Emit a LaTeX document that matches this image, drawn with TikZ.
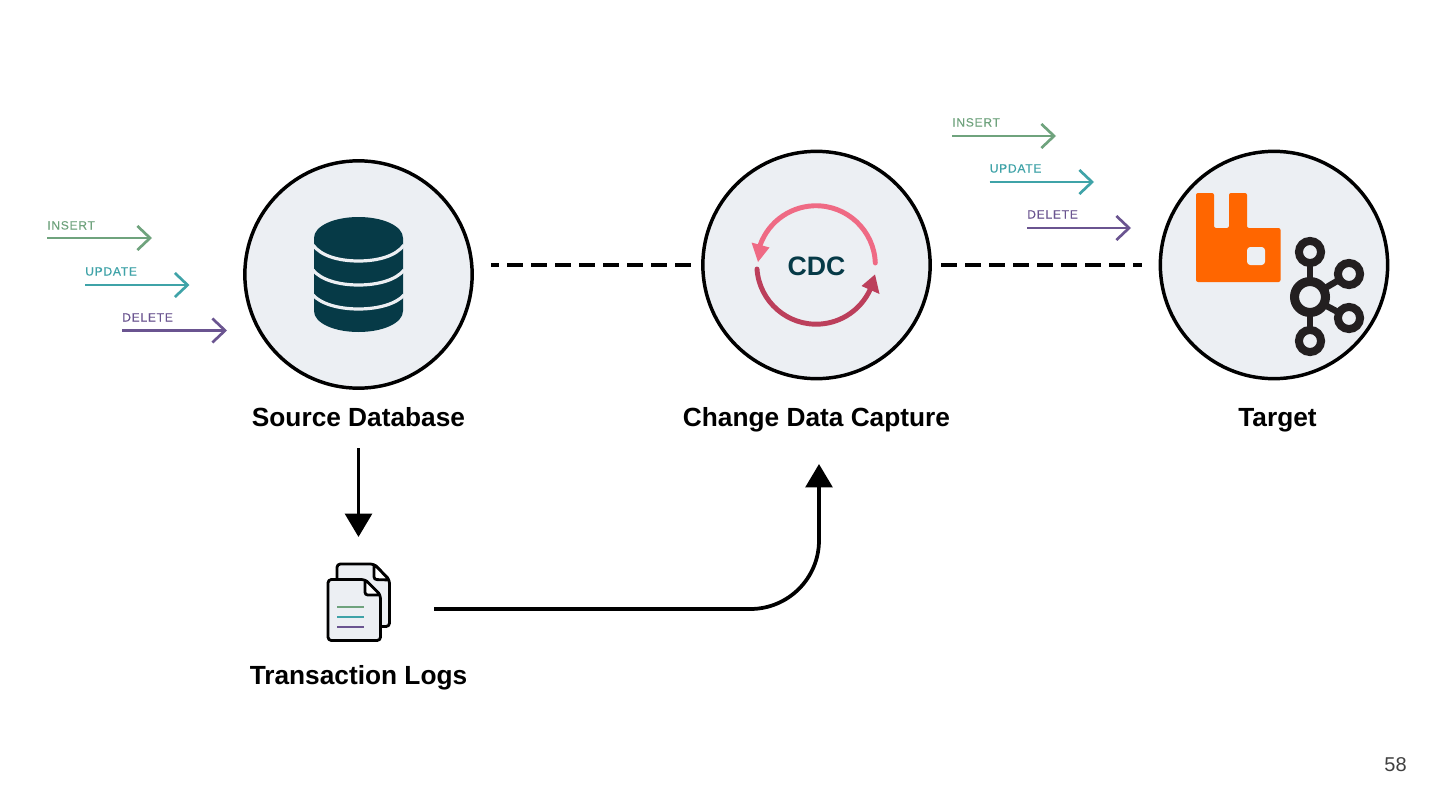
\documentclass[tikz,border=0pt]{standalone}
\usepackage{fontspec}
\setmainfont{Liberation Sans}
\newfontfamily\opfont[LetterSpace=6.5,FakeBold=0.15]{Liberation Sans}
\usetikzlibrary{arrows.meta}
\definecolor{circfill}{HTML}{ECEFF3}
\definecolor{dbteal}{HTML}{063A47}
\definecolor{insgreen}{HTML}{6FA37D}
\definecolor{updteal}{HTML}{3FA3A8}
\definecolor{delpurple}{HTML}{6A5490}
\definecolor{cdcpink}{HTML}{EF6A84}
\definecolor{cdcred}{HTML}{BC3F5B}
\definecolor{rabbit}{HTML}{FF6600}
\definecolor{kafka}{HTML}{231F20}
\tikzset{
  bigcircle/.style={circle,draw=black,fill=circfill,line width=2.6pt,minimum size=170.5pt,inner sep=0pt},
  biglabel/.style={font=\bfseries\fontsize{19.7pt}{22pt}\selectfont,text=black,inner sep=0pt,anchor=base},
  oplabel/.style={font=\opfont\fontsize{9pt}{10pt}\selectfont,anchor=base west,inner sep=0pt},
  oparrow/.style={line width=2pt,-{Straight Barb[length=9.5pt,width=18pt,line width=2pt]}},
  flowarrow/.style={line width=2.8pt,-{Triangle[length=17.5pt,width=20pt]}},
  dashlink/.style={line width=2.7pt,dash pattern=on 12pt off 6pt},
  kring/.style={draw=kafka,line width=6pt},
  klink/.style={draw=kafka,line width=4.8pt},
}
\begin{document}
\begin{tikzpicture}[x=0.75pt,y=-0.75pt]
\useasboundingbox (0,0) rectangle (1440,810);
\fill[white] (0,0) rectangle (1440,810);

% circles
\node[bigcircle] (src) at (358.5,274.5) {};
\node[bigcircle] (cdc) at (816.5,265) {};
\node[bigcircle] (tgt) at (1274,265) {};

% labels
\node[biglabel] (srcl) at (358.5,426.7) {Source Database};
\node[biglabel] (cdcl) at (816.5,426.7) {Change Data Capture};
\node[biglabel] (tgtl) at (1277.5,426.7) {Target};
\node[biglabel] (logl) at (358.5,684.7) {Transaction Logs};
\node[font=\fontsize{15pt}{18pt}\selectfont,text=black!75,inner sep=0pt] (page) at (1395.5,765) {58};

% database icon
\fill[dbteal] (314,238) .. controls (314,226) and (334,217) .. (358.5,217)
  .. controls (383,217) and (403,226) .. (403,238) -- (403,311)
  .. controls (403,323) and (383,332) .. (358.5,332)
  .. controls (334,332) and (314,323) .. (314,311) -- cycle;
\foreach \ys/\ym in {245/261,270/285,295/309}{
  \draw[circfill,line width=2.4pt] (313,\ys) .. controls (321,\ym-5) and (339,\ym) .. (358.5,\ym)
    .. controls (378,\ym) and (396,\ym-5) .. (404,\ys);
}

% CDC icon
\node[font=\bfseries\fontsize{20pt}{24pt}\selectfont,text=dbteal,inner sep=0pt] (cdct) at (816.5,266) {CDC};
\draw[cdcpink,line width=3.7pt,line cap=round] (875.3,263)
   arc[start angle=2,end angle=165,radius=44.5pt];
\fill[cdcpink] (751.5,242.5) -- (769.5,247.5) -- (758,262) -- cycle;
\draw[cdcred,line width=3.7pt,line cap=round] (757,269)
   arc[start angle=184,end angle=335,radius=44.5pt];
\fill[cdcred] (875,274.5) -- (879.5,294) -- (861.5,286) -- cycle;

% rabbit logo
\fill[rabbit,rounded corners=1.5pt]
  (1196,193) -- (1214,193) -- (1214,228) -- (1229,228) -- (1229,193) -- (1247,193)
  -- (1247,228) -- (1280.5,228) -- (1280.5,282) -- (1196,282) -- cycle;
\fill[circfill,rounded corners=2.5pt] (1247,247) rectangle (1265,265);

% kafka logo
\coordinate (kc) at (1310,297);
\coordinate (kt) at (1310,252);
\coordinate (kb) at (1310,341);
\coordinate (kru) at (1349,274);
\coordinate (krl) at (1349,318);
\foreach \k in {kt,kb,kru,krl}{\draw[klink] (kc) -- (\k);}
\fill[circfill] (kc) circle[radius=11.6pt];
\foreach \k in {kt,kb,kru,krl}{\fill[circfill] (\k) circle[radius=8.3pt];
  \draw[kring] (\k) circle[radius=8.3pt];}
\draw[kring,line width=6.8pt] (kc) circle[radius=11.6pt];

% logs icon
\filldraw[fill=circfill,draw=black,line width=2.1pt,rounded corners=2.5pt,line join=round]
  (374,564) -- (337,564) -- (337,626.5) -- (389.5,626.5) -- (389.5,580) -- cycle;
\filldraw[fill=white,draw=black,line width=2.1pt,line join=round,rounded corners=2pt]
  (374,564) -- (374,579.5) -- (389.5,580) -- cycle;
\filldraw[fill=circfill,draw=black,line width=2.1pt,rounded corners=2.5pt,line join=round]
  (365,579.5) -- (328,579.5) -- (328,640.5) -- (380.5,640.5) -- (380.5,595) -- cycle;
\filldraw[fill=white,draw=black,line width=2.1pt,line join=round,rounded corners=2pt]
  (365,579.5) -- (365,595) -- (380.5,595) -- cycle;
\draw[insgreen,line width=2.2pt] (337,607) -- (363.5,607);
\draw[updteal,line width=2.2pt] (337,617) -- (363.5,617);
\draw[delpurple,line width=2.2pt] (337,627) -- (363.5,627);

% dashed links
\coordinate (d1a) at (491,265); \coordinate (d1b) at (692,265);
\coordinate (d2a) at (941,265); \coordinate (d2b) at (1142,265);
\draw[dashlink,dash phase=6pt] (d1a) -- (d1b);
\draw[dashlink] (d2a) -- (d2b);

% flow arrows
\coordinate (fa) at (358.5,448); \coordinate (fb) at (358.5,537);
\draw[flowarrow] (fa) -- (fb);
\coordinate (ga) at (434,609); \coordinate (gb) at (819,464);
\draw[flowarrow,rounded corners=51.5pt] (ga) -| (gb);

% left operation arrows
\node[oplabel,text=insgreen] (li) at (47,229.5) {INSERT};
\node[oplabel,text=updteal] (lu) at (85,275.5) {UPDATE};
\node[oplabel,text=delpurple] (ld) at (122,321.5) {DELETE};
\coordinate (lia) at (47,238); \coordinate (lib) at (152,238);
\coordinate (lua) at (85,285); \coordinate (lub) at (189.5,285);
\coordinate (lda) at (122,330.5); \coordinate (ldb) at (227,330.5);
\draw[oparrow,insgreen] (lia) -- (lib);
\draw[oparrow,updteal] (lua) -- (lub);
\draw[oparrow,delpurple] (lda) -- (ldb);

% right operation arrows
\node[oplabel,text=insgreen] (ri) at (952,126.5) {INSERT};
\node[oplabel,text=updteal] (ru) at (989.5,172.5) {UPDATE};
\node[oplabel,text=delpurple] (rd) at (1027,218.5) {DELETE};
\coordinate (ria) at (952,136); \coordinate (rib) at (1056,136);
\coordinate (rua) at (989.5,182); \coordinate (rub) at (1094,182);
\coordinate (rda) at (1027,228); \coordinate (rdb) at (1131,228);
\draw[oparrow,insgreen] (ria) -- (rib);
\draw[oparrow,updteal] (rua) -- (rub);
\draw[oparrow,delpurple] (rda) -- (rdb);
\end{tikzpicture}
\end{document}
